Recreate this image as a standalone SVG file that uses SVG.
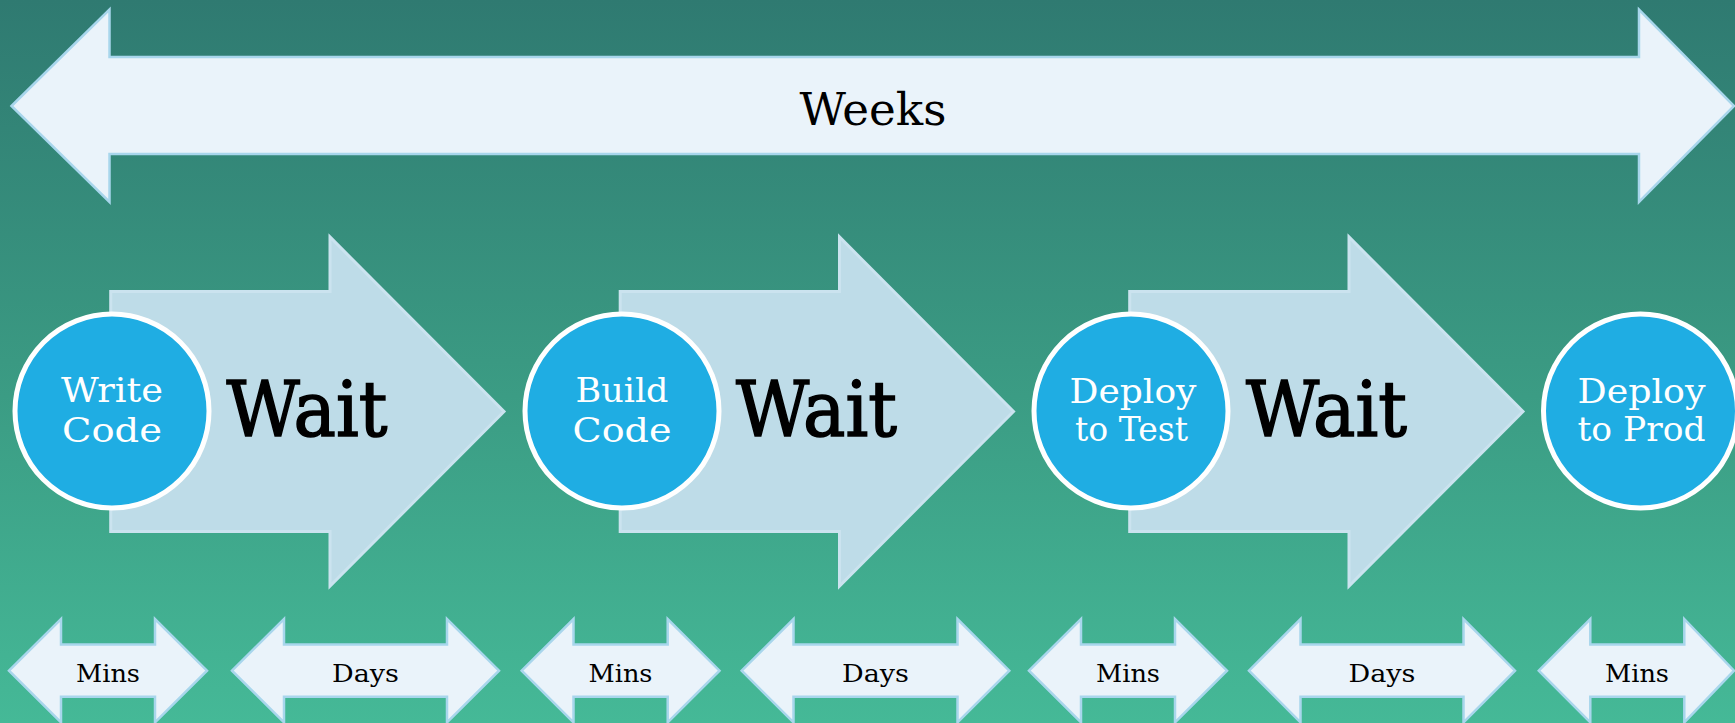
<svg xmlns="http://www.w3.org/2000/svg" width="1735" height="723" viewBox="0 0 1735 723">
  <defs>
    <linearGradient id="bg" x1="0" y1="0" x2="0" y2="1">
      <stop offset="0" stop-color="#2F7A71"/>
      <stop offset="0.5" stop-color="#3A9982"/>
      <stop offset="1" stop-color="#45B997"/>
    </linearGradient>
  </defs>
  <style>
    .dbl { fill: #EAF3FA; stroke: #A8D6EC; stroke-width: 2.5; stroke-linejoin: miter; }
    .wait { fill: #BEDCE8; stroke: #CBE3EF; stroke-width: 3; }
    .node { fill: #1FADE3; stroke: #FFFFFF; stroke-width: 5; }
    .t { font-family: "DejaVu Serif", "Liberation Serif", serif; text-anchor: middle; }
    .ntext { fill: #FFFFFF; font-size: 34px; }
    .waittext { fill: #000000; font-size: 76px; stroke: #000000; stroke-width: 1.6; }
    .small { fill: #000000; font-size: 25px; }
    .weeks { fill: #000000; font-size: 45px; }
  </style>
  <rect x="0" y="0" width="1735" height="723" fill="url(#bg)"/>

  <g id="weeks-arrow">
    <polygon class="dbl" points="11.5,106 109.5,9.5 109.5,57 1639,57 1639,9.5 1734,106 1639,202 1639,154 109.5,154 109.5,202"/>
    <text class="t weeks" x="873" y="125" textLength="147" lengthAdjust="spacingAndGlyphs">Weeks</text>
  </g>

  <g id="connectors">
    <g id="wait1">
      <polygon class="wait" points="110.7,291.5 330,291.5 330,237 504,411.5 330,586 330,531.5 110.7,531.5"/>
      <text class="t waittext" x="307" y="436" textLength="161" lengthAdjust="spacingAndGlyphs">Wait</text>
    </g>
    <g id="wait2">
      <polygon class="wait" points="620.2,291.5 839.5,291.5 839.5,237 1013.5,411.5 839.5,586 839.5,531.5 620.2,531.5"/>
      <text class="t waittext" x="816.5" y="436" textLength="161" lengthAdjust="spacingAndGlyphs">Wait</text>
    </g>
    <g id="wait3">
      <polygon class="wait" points="1129.7,291.5 1349,291.5 1349,237 1523,411.5 1349,586 1349,531.5 1129.7,531.5"/>
      <text class="t waittext" x="1326.5" y="436" textLength="161" lengthAdjust="spacingAndGlyphs">Wait</text>
    </g>
  </g>

  <g id="node-write-code">
    <circle class="node" cx="112" cy="411" r="97"/>
    <text class="t ntext" x="112" y="402" textLength="102" lengthAdjust="spacingAndGlyphs">Write</text>
    <text class="t ntext" x="112" y="442" textLength="100" lengthAdjust="spacingAndGlyphs">Code</text>
  </g>
  <g id="node-build-code">
    <circle class="node" cx="622" cy="411" r="97"/>
    <text class="t ntext" x="622" y="402" textLength="93" lengthAdjust="spacingAndGlyphs">Build</text>
    <text class="t ntext" x="622" y="442" textLength="99" lengthAdjust="spacingAndGlyphs">Code</text>
  </g>
  <g id="node-deploy-test">
    <circle class="node" cx="1131" cy="411" r="97"/>
    <text class="t ntext" x="1133" y="403" textLength="127" lengthAdjust="spacingAndGlyphs">Deploy</text>
    <text class="t ntext" x="1131.5" y="441" textLength="113" lengthAdjust="spacingAndGlyphs">to Test</text>
  </g>
  <g id="node-deploy-prod">
    <circle class="node" cx="1640.5" cy="411" r="97"/>
    <text class="t ntext" x="1641.5" y="403" textLength="128" lengthAdjust="spacingAndGlyphs">Deploy</text>
    <text class="t ntext" x="1641.5" y="441" textLength="128" lengthAdjust="spacingAndGlyphs">to Prod</text>
  </g>

  <g id="time-mins1">
    <polygon class="dbl" points="9,670.7 61,619 61,644.5 155,644.5 155,619 207,670.7 155,722.4 155,696.8 61,696.8 61,722.4"/>
    <text class="t small" x="108" y="682" textLength="64" lengthAdjust="spacingAndGlyphs">Mins</text>
  </g>
  <g id="time-days1">
    <polygon class="dbl" points="232,670.7 284,619 284,644.5 447,644.5 447,619 499,670.7 447,722.4 447,696.8 284,696.8 284,722.4"/>
    <text class="t small" x="365.5" y="682" textLength="67" lengthAdjust="spacingAndGlyphs">Days</text>
  </g>
  <g id="time-mins2">
    <polygon class="dbl" points="521.7,670.7 573.5,619 573.5,644.5 667.7,644.5 667.7,619 719.5,670.7 667.7,722.4 667.7,696.8 573.5,696.8 573.5,722.4"/>
    <text class="t small" x="620.5" y="682" textLength="64" lengthAdjust="spacingAndGlyphs">Mins</text>
  </g>
  <g id="time-days2">
    <polygon class="dbl" points="741.7,670.7 793.5,619 793.5,644.5 957.5,644.5 957.5,619 1009.3,670.7 957.5,722.4 957.5,696.8 793.5,696.8 793.5,722.4"/>
    <text class="t small" x="875.5" y="682" textLength="67" lengthAdjust="spacingAndGlyphs">Days</text>
  </g>
  <g id="time-mins3">
    <polygon class="dbl" points="1029,670.7 1081,619 1081,644.5 1175,644.5 1175,619 1227,670.7 1175,722.4 1175,696.8 1081,696.8 1081,722.4"/>
    <text class="t small" x="1128" y="682" textLength="64" lengthAdjust="spacingAndGlyphs">Mins</text>
  </g>
  <g id="time-days3">
    <polygon class="dbl" points="1249,670.7 1300.5,619 1300.5,644.5 1463.5,644.5 1463.5,619 1515,670.7 1463.5,722.4 1463.5,696.8 1300.5,696.8 1300.5,722.4"/>
    <text class="t small" x="1382" y="682" textLength="67" lengthAdjust="spacingAndGlyphs">Days</text>
  </g>
  <g id="time-mins4">
    <polygon class="dbl" points="1538.8,670.7 1590.3,619 1590.3,644.5 1684.3,644.5 1684.3,619 1734,670.7 1684.3,722.4 1684.3,696.8 1590.3,696.8 1590.3,722.4"/>
    <text class="t small" x="1637" y="682" textLength="64" lengthAdjust="spacingAndGlyphs">Mins</text>
  </g>
</svg>
